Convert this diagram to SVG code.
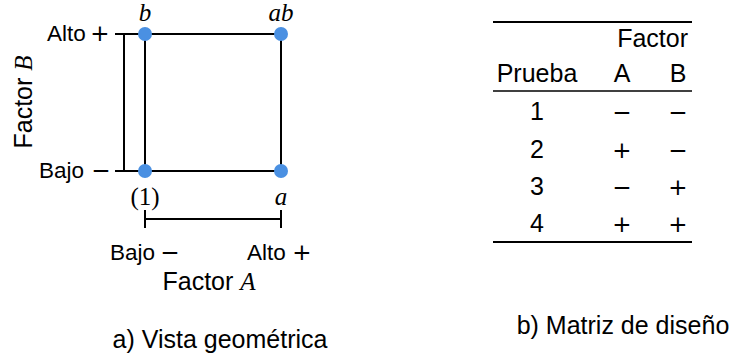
<svg xmlns="http://www.w3.org/2000/svg" width="736" height="358" viewBox="0 0 736 358">
<style>
.s{font-family:"Liberation Sans",Arial,sans-serif;font-size:25px;fill:#000}
.l{font-family:"Liberation Sans",Arial,sans-serif;font-size:22.5px;fill:#000}
.m{font-family:"Liberation Serif","Times New Roman",serif;font-size:25px;font-style:italic;fill:#000}
.r{font-family:"Liberation Serif","Times New Roman",serif;font-size:25px;fill:#000}
.g{font-family:"DejaVu Sans",sans-serif;font-size:23px;fill:#000;text-anchor:middle}
.ln{stroke:#000;stroke-width:2;fill:none}
.dot{fill:#4a90e2}
</style>
<rect width="736" height="358" fill="#fff"/>
<g id="connectors">
<line class="ln" x1="145" y1="34" x2="281" y2="34"/>
<line class="ln" x1="145" y1="171" x2="281" y2="171"/>
<line class="ln" x1="145" y1="34" x2="145" y2="171"/>
<line class="ln" x1="281" y1="34" x2="281" y2="171"/>
<line class="ln" x1="124" y1="34" x2="124" y2="171"/>
<line class="ln" x1="115" y1="34" x2="145" y2="34"/>
<line class="ln" x1="115" y1="171" x2="145" y2="171"/>
<line class="ln" x1="145" y1="219" x2="281" y2="219"/>
<line class="ln" x1="145" y1="210" x2="145" y2="228"/>
<line class="ln" x1="281" y1="210" x2="281" y2="228"/>
</g>
<g id="node-b"><circle class="dot" cx="145" cy="34" r="7"/><text class="m" x="145" y="21" text-anchor="middle">b</text></g>
<g id="node-ab"><circle class="dot" cx="281" cy="34" r="7"/><text class="m" x="281" y="21" text-anchor="middle">ab</text></g>
<g id="node-1"><circle class="dot" cx="145" cy="171" r="7"/><text class="r" x="145" y="205" text-anchor="middle">(1)</text></g>
<g id="node-a"><circle class="dot" cx="281" cy="171" r="7"/><text class="m" x="281" y="205" text-anchor="middle">a</text></g>
<g id="axis-labels">
<text class="l" x="47" y="41">Alto</text><text class="g" x="100" y="41">+</text>
<text class="l" x="39" y="178">Bajo</text><text class="g" x="101" y="178">−</text>
<text class="s" transform="translate(32,102) rotate(-90)" text-anchor="middle">Factor <tspan class="m">B</tspan></text>
<text class="l" x="110" y="260">Bajo</text><text class="g" x="170" y="260">−</text>
<text class="l" x="247" y="260">Alto</text><text class="g" x="302" y="260">+</text>
<text class="s" x="209" y="290" text-anchor="middle">Factor <tspan class="m">A</tspan></text>
<text class="s" x="220" y="348" text-anchor="middle">a) Vista geométrica</text>
</g>
<g id="table">
<line stroke="#000" stroke-width="2" x1="493" y1="22" x2="692" y2="22"/>
<line stroke="#000" stroke-width="1.6" x1="493" y1="91" x2="692" y2="91"/>
<line stroke="#000" stroke-width="2" x1="493" y1="242" x2="692" y2="242"/>
<text class="s" x="688" y="47" text-anchor="end">Factor</text>
<g text-anchor="middle">
<text class="s" x="537" y="82">Prueba</text>
<text class="s" x="622" y="82">A</text>
<text class="s" x="678" y="82">B</text>
<text class="s" x="537" y="120">1</text><text class="g" x="622" y="120">−</text><text class="g" x="678" y="120">−</text>
<text class="s" x="537" y="158">2</text><text class="g" x="622" y="158">+</text><text class="g" x="678" y="158">−</text>
<text class="s" x="537" y="195">3</text><text class="g" x="622" y="195">−</text><text class="g" x="678" y="195">+</text>
<text class="s" x="537" y="232">4</text><text class="g" x="622" y="232">+</text><text class="g" x="678" y="232">+</text>
</g>
<text class="s" x="623" y="334" text-anchor="middle">b) Matriz de diseño</text>
</g>
</svg>
